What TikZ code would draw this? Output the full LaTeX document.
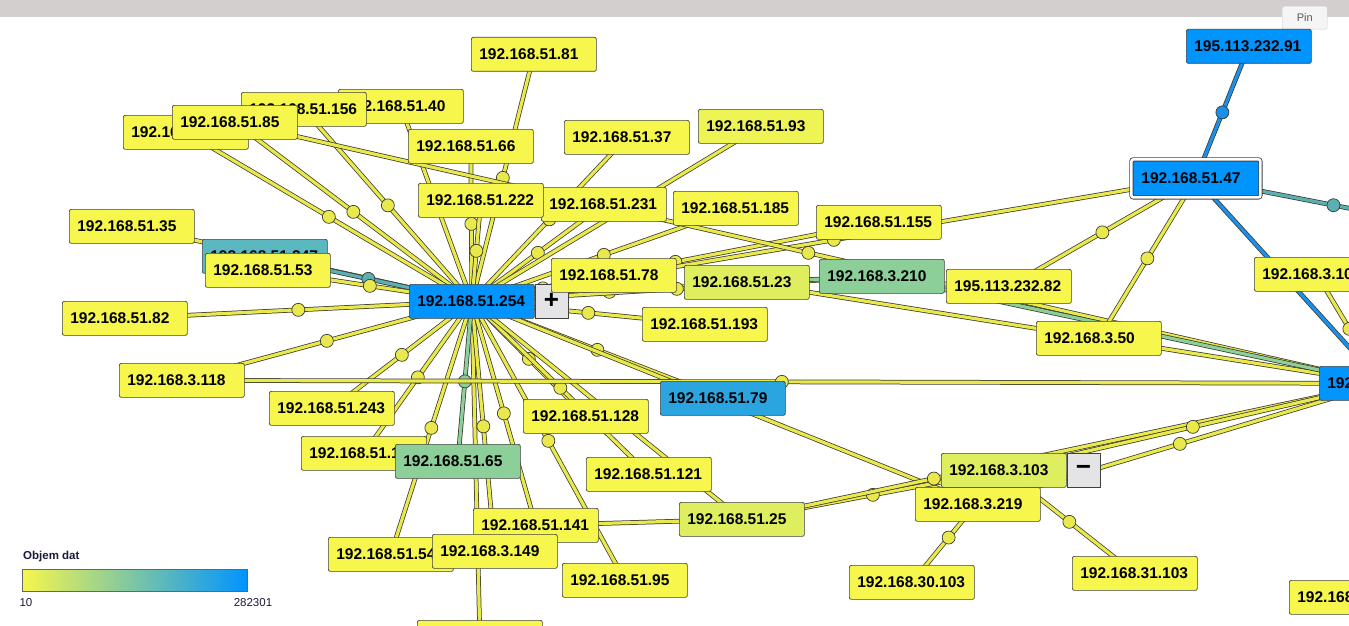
\documentclass[tikz,border=0pt]{standalone}
\usepackage{fontspec}
\setmainfont{Liberation Sans}
\usetikzlibrary{positioning}
\pgfdeclarelayer{background}
\pgfsetlayers{background,main}

\definecolor{hostyel}{HTML}{F6F64C}
\definecolor{hostyelb}{HTML}{EDF453}
\definecolor{hostlime}{HTML}{DEEE5E}
\definecolor{hostgreen}{HTML}{8DCF98}
\definecolor{hostteal}{HTML}{5BB8C0}
\definecolor{hostblue}{HTML}{0094FF}
\definecolor{hostbluel}{HTML}{2AA5E0}
\definecolor{edgeline}{HTML}{3A3A2E}
\definecolor{linkyel}{HTML}{E9E94E}
\definecolor{linkgreen}{HTML}{8DCF98}
\definecolor{linkteal}{HTML}{5AB0B5}
\definecolor{linkblue}{HTML}{1A90EA}
\definecolor{btngray}{HTML}{E4E4E6}
\definecolor{topbar}{HTML}{D3CFCF}
\definecolor{legmid}{HTML}{84CBA4}
\definecolor{legtext}{HTML}{1A1A3A}

\newcommand{\hostfont}{\fontsize{15.5}{18}\selectfont\bfseries}

\tikzset{
  host/.style={draw=black!75, line width=0.7pt, rounded corners=2pt, fill=hostyel,
    anchor=north west, text width=109pt, inner xsep=8pt, inner ysep=0pt,
    minimum height=34pt, align=left, font=\hostfont},
  btn/.style={draw=black!75, line width=0.7pt, fill=btngray, minimum width=33pt,
    minimum height=34pt, inner sep=0pt, font=\fontsize{26}{26}\selectfont\bfseries},
  link/.style={draw=edgeline, line width=0.75pt, double=linkyel, double distance=3.2pt},
  dot/.style={circle, draw=edgeline, line width=0.7pt, fill=linkyel, inner sep=0pt,
    minimum size=13pt},
  legfont/.style={inner sep=0pt, text=legtext, font=\fontsize{11.5}{13}\selectfont},
}

\begin{document}
\begin{tikzpicture}[x=1pt,y=-1pt]
\useasboundingbox (0,0) rectangle (1349,626);
\clip (0,0) rectangle (1349,626);

\fill[topbar] (0,0) rectangle (1349,17);
\node[anchor=north west, draw=black!20, fill=black!4, rounded corners=2pt, minimum width=45pt,
  minimum height=23pt, inner sep=0pt, font=\fontsize{11}{13}\selectfont, text=black!65] (pinbtn) at (1282,6) {Pin};

\node[host] (s10) at (123,115) {192.168.51.10};
\node[host] (s40) at (338,89) {192.168.51.40};
\node[host] (s156) at (241,92) {192.168.51.156};
\node[host] (s85) at (172,105) {192.168.51.85};
\node[host] (s81) at (471,37) {192.168.51.81};
\node[host] (s66) at (408,129) {192.168.51.66};
\node[host] (s37) at (564,120) {192.168.51.37};
\node[host,fill=hostyelb] (s93) at (698,109) {192.168.51.93};
\node[host] (s231) at (541,187) {192.168.51.231};
\node[host] (s222) at (418,183) {192.168.51.222};
\node[host] (s185) at (673,191) {192.168.51.185};
\node[host] (s155) at (816,205) {192.168.51.155};
\node[host] (s35) at (69,209) {192.168.51.35};
\node[host,fill=hostteal] (s247) at (202,239) {192.168.51.247};
\node[host] (s53) at (205,253) {192.168.51.53};
\node[host] (s82) at (62,301) {192.168.51.82};
\node[host] (t118) at (119,363) {192.168.3.118};
\node[host] (s243) at (269,391) {192.168.51.243};
\node[host] (s11) at (301,436) {192.168.51.11};
\node[host,fill=hostgreen] (s65) at (395,444) {192.168.51.65};
\node[host] (s54) at (328,537) {192.168.51.54};
\node[host] (s141) at (473,508) {192.168.51.141};
\node[host] (t149) at (432,534) {192.168.3.149};
\node[host] (s90) at (417,620) {192.168.51.90};
\node[host] (s128) at (523,399) {192.168.51.128};
\node[host] (s121) at (586,457) {192.168.51.121};
\node[host] (s95) at (562,563) {192.168.51.95};
\node[host,fill=hostlime] (s25) at (679,502) {192.168.51.25};
\node[host,fill=hostbluel] (s79) at (660,381) {192.168.51.79};
\node[host,fill=hostblue] (h254) at (409,284) {192.168.51.254};
\node[btn,right=0pt of h254] (plusbtn) {+};
\node[host] (s78) at (551,258) {192.168.51.78};
\node[host,fill=hostlime] (s23) at (684,265) {192.168.51.23};
\node[host,fill=hostgreen] (t210) at (819,259) {192.168.3.210};
\node[host] (s193) at (642,307) {192.168.51.193};
\node[host] (w82) at (946,269) {195.113.232.82};
\node[host] (t50) at (1036,321) {192.168.3.50};
\node[host,fill=hostblue,double=white,double distance=2.6pt,line width=0.8pt,
  inner xsep=10pt,minimum height=38pt] (s47) at (1131,159) {192.168.51.47};
\node[host,fill=hostblue] (w91) at (1186,29) {195.113.232.91};
\node[host] (t100) at (1254,257) {192.168.3.100};
\node[host,fill=hostblue] (t1) at (1319,366) {192.168.3.1};
\node[host] (t219) at (915,487) {192.168.3.219};
\node[host,fill=hostlime] (t103) at (941,453) {192.168.3.103};
\node[btn,right=0pt of t103] (minusbtn) {−};
\node[host] (p30) at (849,565) {192.168.30.103};
\node[host] (p31) at (1072,556) {192.168.31.103};
\node[host] (t20) at (1289,580) {192.168.3.20};
\coordinate (offr) at (1471,232);

\begin{pgfonlayer}{background}
\clip (0,0) rectangle (1349,626);
\draw[link] (h254.center) -- (s81.center) node[dot,pos=.5] {};
\draw[link] (h254.center) -- (s40.center) node[dot,pos=.5] {};
\draw[link] (h254.center) -- (s156.center) node[dot,pos=.5] {};
\draw[link] (h254.center) -- (s85.center) node[dot,pos=.5] {};
\draw[link] (h254.center) -- (s10.center) node[dot,pos=.5] {};
\draw[link] (h254.center) -- (s66.center) node[dot,pos=.5] {};
\draw[link] (h254.center) -- (s222.center) node[dot,pos=.5] {};
\draw[link] (h254.center) -- (s231.center) node[dot,pos=.5] {};
\draw[link] (h254.center) -- (s37.center) node[dot,pos=.5] {};
\draw[link] (h254.center) -- (s93.center) node[dot,pos=.5] {};
\draw[link] (h254.center) -- (s185.center) node[dot,pos=.5] {};
\draw[link] (h254.center) -- (s155.center) node[dot,pos=.5] {};
\draw[link] (h254.center) -- (s47.center) node[dot,pos=.5] {};
\draw[link] (h254.center) -- (s78.center) node[dot,pos=.5] {};
\draw[link] (h254.center) -- (s23.center) node[dot,pos=.5] {};
\draw[link] (h254.center) -- (t210.center) node[dot,pos=.5] {};
\draw[link] (h254.center) -- (s193.center) node[dot,pos=.5] {};
\draw[link] (h254.center) -- (s35.center) node[dot,pos=.5] {};
\draw[link,double=linkteal] (h254.center) -- (s247.center) node[dot,pos=.5,fill=linkteal] {};
\draw[link] (h254.center) -- (s53.center) node[dot,pos=.5] {};
\draw[link] (h254.center) -- (s82.center) node[dot,pos=.5] {};
\draw[link] (h254.center) -- (t118.center) node[dot,pos=.5] {};
\draw[link] (h254.center) -- (s243.center) node[dot,pos=.5] {};
\draw[link] (h254.center) -- (s11.center) node[dot,pos=.5] {};
\draw[link] (h254.center) -- (s54.center) node[dot,pos=.5] {};
\draw[link] (h254.center) -- (s90.center) node[dot,pos=.5] {};
\draw[link] (h254.center) -- (t149.center) node[dot,pos=.5] {};
\draw[link] (h254.center) -- (s141.center) node[dot,pos=.5] {};
\draw[link] (h254.center) -- (s128.center) node[dot,pos=.5] {};
\draw[link] (h254.center) -- (s121.center) node[dot,pos=.5] {};
\draw[link] (h254.center) -- (s95.center) node[dot,pos=.5] {};
\draw[link] (h254.center) -- (s25.center) node[dot,pos=.5] {};
\draw[link] (h254.center) -- (s79.center) node[dot,pos=.5] {};
\draw[link] (h254.center) -- (t219.center) node[dot,pos=.5] {};
\draw[link,double=linkgreen] (h254.center) -- (s65.center) node[dot,pos=.5,fill=linkgreen] {};

\draw[link] (s85.center) -- (t1.center) node[dot,pos=.5] {};
\draw[link] (t118.center) -- (t1.center) node[dot,pos=.5] {};
\draw[link,double=linkgreen] (s23.center) -- (t210.center);
\draw[link] (s23.center) -- (t1.center) node[dot,pos=.5] {};
\draw[link,double=linkgreen] (t210.center) -- (t1.center);
\draw[link,double=linkblue] (s47.center) -- (w91.center) node[dot,pos=.5,fill=linkblue] {};
\draw[link,double=linkteal] (s47.center) -- (offr) node[dot,pos=.5,fill=linkteal] {};
\draw[link,double=linkblue] (s47.center) -- (t1.center);
\draw[link] (s47.center) -- (w82.center) node[dot,pos=.5] {};
\draw[link] (s47.center) -- (t50.center) node[dot,pos=.5] {};
\draw[link] (t100.center) -- (t1.center) node[dot,pos=.5] {};
\draw[link] (s141.center) -- (s25.center);
\draw[link] (s25.center) -- (t103.center) node[dot,pos=.5] {};
\draw[link] (s25.center) -- (t1.center) node[dot,pos=.3] {};
\draw[link] (t103.center) -- (t1.center) node[dot,pos=.5] {};
\draw[link] (t219.center) -- (t1.center) node[dot,pos=.5] {};
\draw[link] (t103.center) -- (p30.center) node[dot,pos=.6] {};
\draw[link] (t103.center) -- (p31.center) node[dot,pos=.5] {};
\end{pgfonlayer}

\node[legfont,anchor=west,font=\fontsize{11.5}{13}\selectfont\bfseries] (legtitle) at (23,557) {Objem dat};
\shade[left color=hostyel, middle color=legmid, right color=hostblue] (22,569) rectangle (247,591);
\draw[black!60, line width=0.5pt] (22,569) rectangle (247,591);
\node[legfont] (legmin) at (26,603) {10};
\node[legfont] (legmax) at (253,603) {282301};
\end{tikzpicture}
\end{document}
